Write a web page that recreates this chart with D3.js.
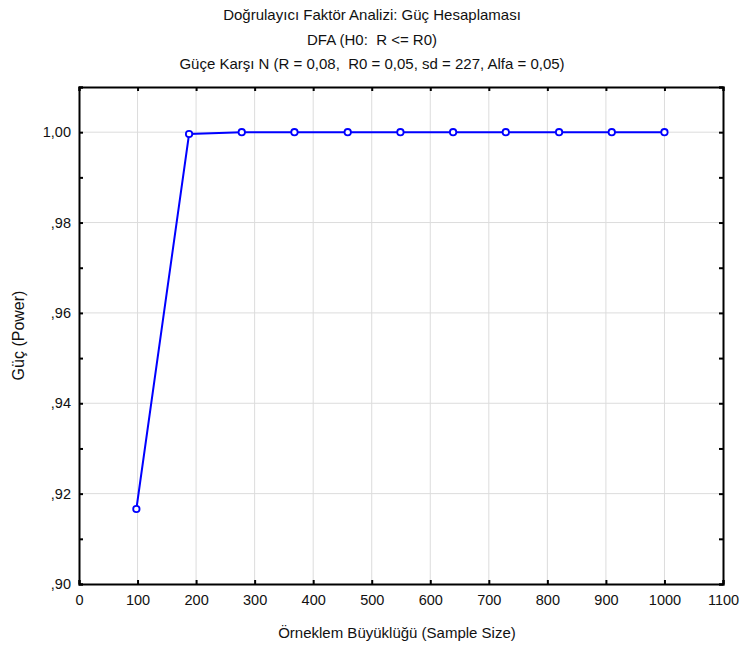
<!DOCTYPE html>
<html lang="tr">

<head>
  <meta charset="UTF-8">
  <title>Güç Hesaplaması</title>
  <script src="https://d3js.org/d3.v7.min.js"></script>
  <style>
    body {
      margin: 0;
      background: #fff;
    }
    text {
      font-family: "Liberation Sans", Arial, sans-serif;
      fill: #111;
      white-space: pre;
    }
    .grid line {
      stroke: #dcdcdc;
      stroke-width: 1;
    }
  </style>
</head>

<body>
</body>

<script>
//Constants for the SVG
var width = 740,
    height = 646;

var margin = {top: 87, right: 17, bottom: 62, left: 79};

// data
var sampleSize = [98, 188, 278, 368, 459, 549, 639, 729, 820, 910, 1000];
var power = [0.9166, 0.9996, 1.0, 1.0, 1.0, 1.0, 1.0, 1.0, 1.0, 1.0, 1.0];

var xTicks = [0, 100, 200, 300, 400, 500, 600, 700, 800, 900, 1000, 1100];
var yTicks = [0.90, 0.92, 0.94, 0.96, 0.98, 1.00];
var yMinor = [0.91, 0.93, 0.95, 0.97, 0.99, 1.01];

var titles = [
  "Doğrulayıcı Faktör Analizi: Güç Hesaplaması",
  "DFA (H0:  R <= R0)",
  "Güçe Karşı N (R = 0,08,  R0 = 0,05, sd = 227, Alfa = 0,05)"
];

var points = sampleSize.map(function(n, i) { return {n: n, p: power[i]}; });

var svg = d3.select("body").append("svg")
          .attr("width", width)
          .attr("height", height);

var x = d3.scaleLinear()
    .domain([0, 1100])
    .range([margin.left, width - margin.right]);

var y = d3.scaleLinear()
    .domain([0.90, 1.01])
    .range([height - margin.bottom, margin.top]);

function yFormat(v) {
  var s = d3.format(".2f")(v).replace(".", ",");
  return s.charAt(0) === "0" ? s.slice(1) : s;
}

// grid
var grid = svg.append("g").attr("class", "grid");
grid.selectAll("line.gx").data(xTicks.slice(1, -1)).enter().append("line")
    .attr("x1", function(d) { return x(d); })
    .attr("x2", function(d) { return x(d); })
    .attr("y1", y(1.01))
    .attr("y2", y(0.90));
grid.selectAll("line.gy").data(yTicks.slice(1)).enter().append("line")
    .attr("x1", x(0))
    .attr("x2", x(1100))
    .attr("y1", function(d) { return y(d); })
    .attr("y2", function(d) { return y(d); });

// axes, ticks pointing inward
var bottomAxis = d3.axisBottom(x).tickValues(xTicks).tickSize(-4).tickPadding(11).tickFormat(d3.format("d"));
var topAxis = d3.axisTop(x).tickValues(xTicks).tickSize(-4).tickFormat("");
var leftAxis = d3.axisLeft(y).tickValues(yTicks.concat(yMinor)).tickSize(-4).tickPadding(8)
    .tickFormat(function(d) { return yTicks.indexOf(d) >= 0 ? yFormat(d) : ""; });
var rightAxis = d3.axisRight(y).tickValues(yTicks.concat(yMinor)).tickSize(-4).tickFormat("");

function styleAxis(g) {
  g.select(".domain").attr("stroke", "#000").attr("stroke-width", 2);
  g.selectAll(".tick line").attr("stroke", "#000").attr("stroke-width", 2);
  g.selectAll(".tick text").attr("font-size", 14.5).attr("fill", "#111")
    .attr("font-family", "Liberation Sans, Arial, sans-serif");
}

svg.append("g").attr("transform", "translate(0," + y(0.90) + ")").call(bottomAxis).call(styleAxis);
svg.append("g").attr("transform", "translate(0," + y(1.01) + ")").call(topAxis).call(styleAxis);
svg.append("g").attr("transform", "translate(" + x(0) + ",0)").call(leftAxis).call(styleAxis);
svg.append("g").attr("transform", "translate(" + x(1100) + ",0)").call(rightAxis).call(styleAxis);

// series
var line = d3.line()
    .x(function(d) { return x(d.n); })
    .y(function(d) { return y(d.p); });

svg.append("path")
    .datum(points)
    .attr("d", line)
    .attr("fill", "none")
    .attr("stroke", "#0000ff")
    .attr("stroke-width", 2);

svg.selectAll("circle").data(points).enter().append("circle")
    .attr("cx", function(d) { return x(d.n); })
    .attr("cy", function(d) { return y(d.p); })
    .attr("r", 3.2)
    .attr("fill", "#fff")
    .attr("stroke", "#0000ff")
    .attr("stroke-width", 1.8);

// titles
svg.selectAll("text.title").data(titles).enter().append("text")
    .attr("class", "title")
    .attr("x", 372)
    .attr("y", function(d, i) { return 20 + i * 24.5; })
    .attr("text-anchor", "middle")
    .attr("font-size", 15)
    .text(function(d) { return d; });

svg.append("text")
    .attr("x", (x(0) + x(1100)) / 2 - 4)
    .attr("y", 638)
    .attr("text-anchor", "middle")
    .attr("font-size", 15)
    .text("Örneklem Büyüklüğü (Sample Size)");

svg.append("text")
    .attr("transform", "translate(24," + (y(0.955)) + ") rotate(-90)")
    .attr("text-anchor", "middle")
    .attr("font-size", 16)
    .text("Güç (Power)");

</script>

</html>
